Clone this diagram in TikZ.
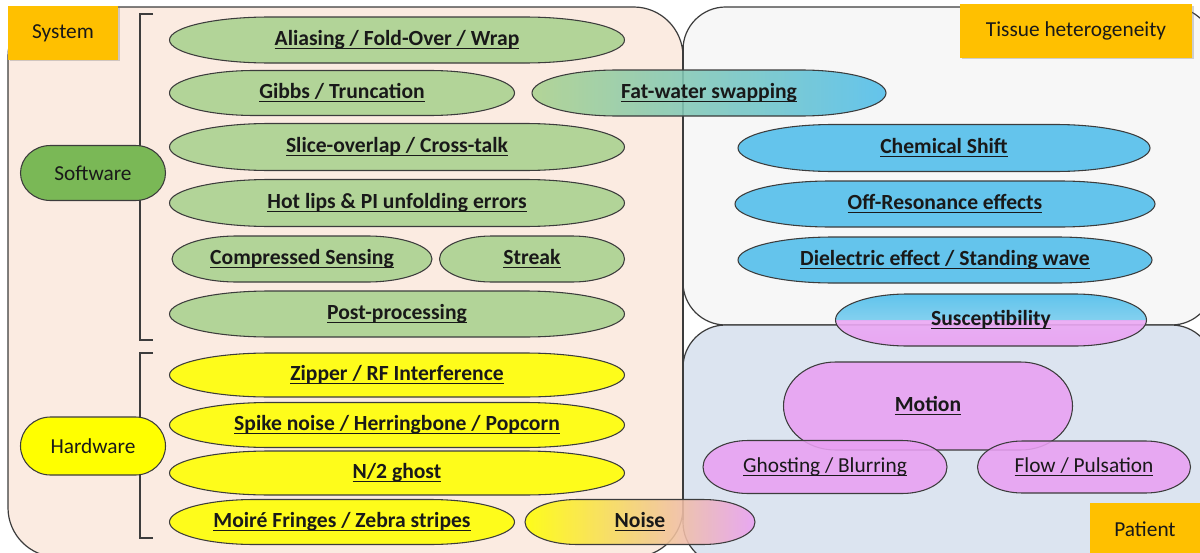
\documentclass[tikz,border=0pt]{standalone}
\usepackage{fontspec}
\setmainfont{Carlito}
\usetikzlibrary{shadows}
\definecolor{sysbg}{RGB}{251,235,225}
\definecolor{tisbg}{RGB}{247,247,247}
\definecolor{patbg}{RGB}{220,228,240}
\definecolor{orng}{RGB}{255,192,0}
\definecolor{grn}{RGB}{169,209,142}
\definecolor{grnd}{RGB}{122,184,86}
\definecolor{blu}{RGB}{80,190,235}
\definecolor{yel}{RGB}{255,255,0}
\definecolor{pnk}{RGB}{233,160,243}
\definecolor{edge}{RGB}{60,60,60}
\definecolor{txt}{RGB}{25,25,25}
\newcommand\myul[1]{\setbox0\hbox{#1}\rlap{\vrule width\wd0 height -1.8pt depth 2.8pt}\box0}
\tikzset{
  region/.style={draw=edge, line width=0.9pt},
  blob/.style={draw=edge, line width=0.8pt, fill opacity=0.88},
  lbl/.style={font=\fontsize{16.2}{19}\selectfont\bfseries, text=txt, inner sep=0pt},
  lblr/.style={font=\fontsize{16}{19}\selectfont, text=txt, inner sep=0pt},
  tag/.style={fill=orng, font=\fontsize{16}{19}\selectfont, text=txt,
    drop shadow={shadow xshift=1.2pt, shadow yshift=-1.2pt, opacity=0.35}},
  brk/.style={draw=edge, line width=0.9pt},
}
% cx, cy, w, h, rx
\newcommand\stadpath[5]{({#1-#3/2+#5},{-(#2)+#4/2}) -- ({#1+#3/2-#5},{-(#2)+#4/2})
    arc[start angle=90,end angle=-90,x radius=#5,y radius=#4/2]
    -- ({#1-#3/2+#5},{-(#2)-#4/2})
    arc[start angle=270,end angle=90,x radius=#5,y radius=#4/2] -- cycle}
% name, cx, cy, w, h, rx, style, label
\newcommand\stadium[8]{%
  \path[blob,#7] \stadpath{#2}{#3}{#4}{#5}{#6};
  \node[lbl] (#1) at (#2,-#3) {\myul{#8}};
}
\newcommand\stadiumr[8]{%
  \path[blob,#7] \stadpath{#2}{#3}{#4}{#5}{#6};
  \node[lblr] (#1) at (#2,-#3) {#8};
}
\begin{document}
\begin{tikzpicture}[x=0.75pt,y=0.75pt]
\useasboundingbox (0,0) rectangle (1200,-553);
\fill[white] (0,0) rectangle (1200,-553);
\begin{scope}
\clip (0,0) rectangle (1200,-553);
% regions
\draw[region, fill=sysbg, rounded corners=37pt] (8,-7) rectangle (683,-557);
\draw[region, fill=tisbg, rounded corners=32pt] (683,-7) rectangle (1214,-325);
\draw[region, fill=patbg, rounded corners=32pt] (683,-325) rectangle (1214,-565);
\draw[region] (683,-45) -- (683,-520);

% brackets
\coordinate (swt) at (153,-14);
\coordinate (swtc) at (140,-14);
\coordinate (swbc) at (140,-340);
\coordinate (swb) at (153,-340);
\draw[brk] (swt) -- (swtc) -- (swbc) -- (swb);
\coordinate (hwt) at (153,-353);
\coordinate (hwtc) at (140,-353);
\coordinate (hwbc) at (140,-538);
\coordinate (hwb) at (153,-538);
\draw[brk] (hwt) -- (hwtc) -- (hwbc) -- (hwb);

% category nodes
\stadiumr{software}{93}{173}{145}{55}{30}{fill=grnd, fill opacity=1}{Software}
\stadiumr{hardware}{93}{446}{145}{58}{30}{fill=yel, fill opacity=1}{Hardware}

% software artefacts
\stadium{alias}{397}{40}{455}{46}{100}{fill=grn}{Aliasing / Fold-Over / Wrap}
\stadium{gibbs}{342}{93}{345}{45}{85}{fill=grn}{Gibbs / Truncation}
\stadium{slice}{397}{147}{455}{47}{100}{fill=grn}{Slice-overlap / Cross-talk}
\stadium{hotlips}{397}{203}{455}{47}{100}{fill=grn}{Hot lips \& PI unfolding errors}
\stadium{cs}{302}{259}{260}{46}{65}{fill=grn}{Compressed Sensing}
\stadium{streak}{532}{259}{185}{46}{52}{fill=grn}{Streak}
\stadium{post}{397}{314}{455}{46}{100}{fill=grn}{Post-processing}

% hardware artefacts
\stadium{zipper}{397}{375}{455}{44}{100}{fill=yel}{Zipper / RF Interference}
\stadium{spike}{397}{425}{455}{45}{100}{fill=yel}{Spike noise / Herringbone / Popcorn}
\stadium{nghost}{397}{473}{455}{44}{100}{fill=yel}{N/2 ghost}
\stadium{moire}{342}{522}{345}{45}{85}{fill=yel}{Moiré Fringes / Zebra stripes}

% tissue heterogeneity
\stadium{chem}{944}{148}{412}{47}{95}{fill=blu}{Chemical Shift}
\stadium{offres}{945}{204}{420}{46}{95}{fill=blu}{Off-Resonance effects}
\stadium{diel}{945}{260}{414}{46}{95}{fill=blu}{Dielectric effect / Standing wave}

% patient
\stadium{motion}{928}{406}{289}{88}{52}{fill=pnk}{Motion}
\stadiumr{ghost}{825}{467}{244}{53}{45}{fill=pnk}{\myul{Ghosting / Blurring}}
\stadiumr{flow}{1084}{467}{213}{52}{45}{fill=pnk}{\myul{Flow / Pulsation}}

% overlapping artefacts
\stadium{fatwater}{709}{93}{354}{46}{85}{left color=grn, right color=blu}{Fat-water swapping}
\begin{scope}
  \clip (830,-280) rectangle (1155,-320);
  \path[fill opacity=0.9, top color=blu, bottom color=blu!55!white] \stadpath{991}{320}{311}{52}{72};
\end{scope}
\begin{scope}
  \clip (830,-320) rectangle (1155,-360);
  \path[fill opacity=0.9, top color=pnk!80!white, bottom color=pnk] \stadpath{991}{320}{311}{52}{72};
\end{scope}
\stadium{suscept}{991}{320}{311}{52}{72}{fill=none}{Susceptibility}
\stadium{noise}{640}{522}{230}{45}{52}{left color=yel, right color=pnk}{Noise}

% tags
\node[tag, minimum width=82.5pt, minimum height=40pt] (system) at (63,-33) {System};
\node[tag, minimum width=174pt, minimum height=40pt] (tissue) at (1076,-31) {Tissue heterogeneity};
\node[tag, minimum width=86pt, minimum height=42pt, anchor=north west] (patient) at (1090,-503) {};
\node[lblr] (patientlbl) at (1145,-529) {Patient};
\end{scope}
\end{tikzpicture}
\end{document}
